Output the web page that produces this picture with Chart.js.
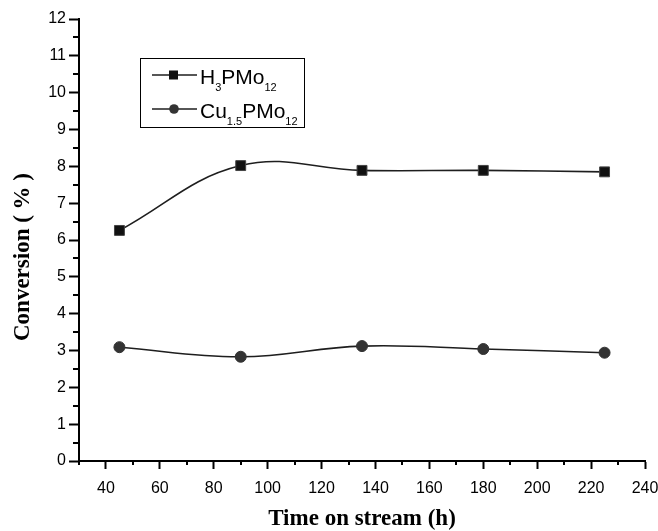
<!DOCTYPE html>
<html>
<head>
<meta charset="utf-8">
<script src="https://cdn.jsdelivr.net/npm/chart.js@4/dist/chart.umd.min.js"></script>
<style>
  html, body { margin:0; padding:0; background:#fff; }
  #wrap { width:658px; height:531px; }
</style>
</head>
<body>
<div id="wrap"><canvas id="chart"></canvas></div>
<script>
// data
const hours = [45, 90, 135, 180, 225];
const h3pmo12 = [6.26, 8.02, 7.89, 7.89, 7.85];
const cuPmo12 = [3.09, 2.83, 3.12, 3.04, 2.94];

const xTicks = [40, 60, 80, 100, 120, 140, 160, 180, 200, 220, 240];
const xMinor = [30, 50, 70, 90, 110, 130, 150, 170, 190, 210, 230];
const yTicks = [0, 1, 2, 3, 4, 5, 6, 7, 8, 9, 10, 11, 12];
const yMinor = [0.5, 1.5, 2.5, 3.5, 4.5, 5.5, 6.5, 7.5, 8.5, 9.5, 10.5, 11.5];

const xTitle = "Time on stream (h)";
const yTitle = "Conversion ( % )";
// legend labels split into [text, isSubscript]
const legendH = [["H",0],["3",1],["PMo",0],["12",1]];
const legendCu = [["Cu",0],["1.5",1],["PMo",0],["12",1]];

const LINE = "#1e1e1e";
const SANS = "'Liberation Sans', Arial, sans-serif";
const SERIF = "'Liberation Serif', 'Times New Roman', serif";

function pts(ys){
  return hours.map((h,i) => ({ x:h, y:ys[i] }));
}

function drawRich(ctx, parts, x, y){
  for(const [t, sub] of parts){
    ctx.font = sub ? `11px ${SANS}` : `21px ${SANS}`;
    ctx.fillText(t, x, sub ? y + 7 : y);
    x += ctx.measureText(t).width;
  }
}

const extras = {
  id:"extras",
  afterDraw(chart){
    const { ctx, chartArea:a, scales } = chart;
    ctx.save();
    ctx.strokeStyle = "#000";
    ctx.lineWidth = 2;
    ctx.beginPath();
    for(const v of xMinor){
      const px = Math.round(scales.x.getPixelForValue(v));
      ctx.moveTo(px, a.bottom);
      ctx.lineTo(px, a.bottom + 4);
    }
    for(const v of yMinor){
      const py = Math.round(scales.y.getPixelForValue(v));
      ctx.moveTo(a.left, py);
      ctx.lineTo(a.left - 6, py);
    }
    ctx.stroke();

    // axis titles
    ctx.fillStyle = "#000";
    ctx.font = `bold 23px ${SERIF}`;
    ctx.textAlign = "center";
    ctx.textBaseline = "middle";
    ctx.fillText(xTitle, (a.left + a.right) / 2, 519);
    ctx.save();
    ctx.translate(23, (a.top + a.bottom) / 2 + 17);
    ctx.rotate(-Math.PI / 2);
    ctx.fillText(yTitle, 0, 0);
    ctx.restore();

    // legend
    const lx = a.left + 61, ly = 58;
    ctx.lineWidth = 1;
    ctx.strokeRect(lx + 0.5, ly + 0.5, 164, 69);
    const rows = [
      { y: ly + 17, parts: legendH, shape: "rect" },
      { y: ly + 51, parts: legendCu, shape: "circle" }
    ];
    for(const r of rows){
      ctx.strokeStyle = LINE;
      ctx.lineWidth = 1.5;
      ctx.beginPath();
      ctx.moveTo(lx + 12, r.y);
      ctx.lineTo(lx + 57, r.y);
      ctx.stroke();
      if(r.shape === "rect"){
        ctx.fillStyle = "#111";
        ctx.fillRect(lx + 29, r.y - 4.5, 9, 9);
      } else {
        ctx.fillStyle = "#333";
        ctx.beginPath();
        ctx.arc(lx + 34, r.y, 4.8, 0, Math.PI * 2);
        ctx.fill();
      }
      ctx.fillStyle = "#000";
      ctx.textAlign = "left";
      ctx.textBaseline = "alphabetic";
      drawRich(ctx, r.parts, lx + 60, r.y + 9);
    }
    ctx.restore();
  }
};

new Chart(document.getElementById("chart"), {
  type:"line",
  data:{
    datasets:[
      {
        label:"H3PMo12",
        data: pts(h3pmo12),
        borderColor: LINE,
        borderWidth: 1.6,
        tension: 0.4,
        pointStyle: "rect",
        pointRadius: 7,
        pointBackgroundColor: "#111",
        pointBorderColor: "#444",
        pointBorderWidth: 1
      },
      {
        label:"Cu1.5PMo12",
        data: pts(cuPmo12),
        borderColor: LINE,
        borderWidth: 1.6,
        tension: 0.4,
        pointStyle: "circle",
        pointRadius: 5.5,
        pointBackgroundColor: "#333",
        pointBorderColor: "#333",
        pointBorderWidth: 1
      }
    ]
  },
  options:{
    responsive:true,
    maintainAspectRatio:false,
    animation:false,
    layout:{ padding:{ top:19, right:0, left:0, bottom:0 } },
    plugins:{ legend:{ display:false }, tooltip:{ enabled:false } },
    scales:{
      x:{
        type:"linear",
        min:30, max:240,
        afterBuildTicks: s => { s.ticks = xTicks.map(v => ({ value:v })); },
        afterFit: s => { s.height = 70; s.paddingRight = 13; s.paddingLeft = 0; },
        ticks:{ color:"#000", font:{ family:SANS, size:16 }, padding:10, maxRotation:0, autoSkip:false },
        grid:{ drawOnChartArea:false, tickLength:8, tickWidth:2, tickColor:"#000" },
        border:{ color:"#000", width:2 }
      },
      y:{
        min:0, max:12,
        afterBuildTicks: s => { s.ticks = yTicks.map(v => ({ value:v })); },
        afterFit: s => { s.width = 79; },
        ticks:{ color:"#000", font:{ family:SANS, size:16 }, padding:3, autoSkip:false },
        grid:{ drawOnChartArea:false, tickLength:10, tickWidth:2, tickColor:"#000" },
        border:{ color:"#000", width:2 }
      }
    }
  },
  plugins:[extras]
});
</script>
</body>
</html>
